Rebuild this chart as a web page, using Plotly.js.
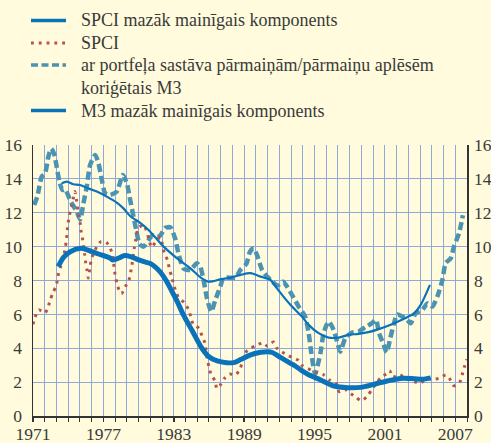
<!DOCTYPE html>
<html><head><meta charset="utf-8">
<script src="https://cdn.plot.ly/plotly-3.0.1.min.js"></script>
<style>html,body{margin:0;padding:0;background:#fffbdc;}</style>
</head><body>
<div id="chart" style="width:491px;height:443px;"></div>
<script>
// ---- data ----
const legendLabels = [
  "SPCI mazāk mainīgais komponents",
  "SPCI",
  "ar portfeļa sastāva pārmaiņām/pārmaiņu aplēsēm",
  "koriģētais M3",
  "M3 mazāk mainīgais komponents"
];
const xTickYears = [1971,1977,1983,1989,1995,2001,2007];

const spciCoreYears = [1973.15,1973.6,1974.17,1975.1,1975.5,1976.03,1976.89,1977.6,1977.8,1978.46,1978.8,1979.31,1979.89,1980.46,1981.0,1981.46,1981.85,1982.35,1982.85,1983.3,1983.8,1984.6,1985.4,1986.0,1986.7,1987.5,1988.1,1988.7,1989.5,1990.4,1991.0,1991.4,1992.1,1993.24,1994.38,1995.52,1996.66,1997.8,1998.93,2000.07,2001.21,2002.35,2003.49,2004.2,2004.9];
const spciCoreVals  = [8.82,9.37,9.7,9.9,9.84,9.7,9.5,9.31,9.21,9.37,9.47,9.41,9.25,9.11,9.0,8.78,8.5,8.0,7.35,6.75,6.0,5.0,4.0,3.5,3.25,3.15,3.15,3.33,3.6,3.76,3.8,3.75,3.46,3.0,2.48,2.13,1.77,1.67,1.69,1.87,2.07,2.22,2.2,2.17,2.25];

const spciYears = [1971.0,1971.17,1971.5,1972.03,1972.27,1972.47,1972.7,1973.0,1973.1,1973.35,1973.63,1973.77,1973.86,1973.92,1974.0,1974.11,1974.28,1974.42,1974.57,1974.7,1974.88,1975.02,1975.09,1975.22,1975.31,1975.4,1975.49,1975.6,1975.71,1975.88,1976.03,1976.5,1976.8,1977.25,1977.56,1977.8,1977.88,1977.96,1978.22,1978.55,1978.88,1979.18,1979.44,1979.62,1979.76,1979.96,1980.45,1980.88,1981.1,1981.48,1981.85,1982.2,1982.47,1982.62,1982.8,1983.0,1983.2,1983.4,1983.9,1984.25,1984.45,1984.65,1985.15,1985.4,1985.65,1985.85,1986.0,1986.17,1986.5,1986.68,1986.95,1987.3,1987.75,1988.3,1988.68,1989.1,1989.55,1990.0,1990.6,1990.97,1991.3,1991.5,1991.8,1992.2,1992.8,1993.6,1994.0,1994.7,1995.3,1995.8,1996.3,1996.9,1997.1,1997.6,1998.1,1998.5,1999.0,1999.5,1999.9,2000.3,2000.7,2001.1,2001.4,2001.7,2002.2,2002.8,2003.5,2004.0,2004.5,2005.0,2005.6,2006.2,2006.5,2006.9,2007.4,2007.6,2007.8,2008.0];
const spciVals  = [5.41,5.83,6.26,6.08,6.4,6.85,7.28,7.72,8.19,8.8,9.5,10.0,10.47,10.94,11.42,11.87,12.36,12.8,13.25,12.8,11.87,11.4,10.94,10.47,10.0,9.55,9.06,8.62,8.15,8.9,9.37,10.08,10.3,10.26,9.94,9.5,9.0,8.52,7.64,7.22,7.64,8.03,8.94,9.88,10.4,11.08,11.28,10.45,9.96,10.3,10.55,9.6,9.2,8.72,8.27,7.75,7.3,7.0,6.69,6.3,5.87,5.43,5.17,4.74,4.32,3.37,2.91,2.46,2.09,1.62,1.81,2.2,2.48,2.43,2.84,3.74,4.0,4.15,4.33,4.13,4.29,4.37,4.0,3.8,3.55,3.3,2.95,2.72,2.52,2.42,2.12,1.87,1.44,1.57,1.32,1.12,0.89,1.18,1.57,1.97,2.3,2.48,2.68,2.29,2.46,2.2,2.03,1.92,2.2,2.16,2.22,2.42,2.22,1.78,2.03,2.46,2.95,3.35];

const m3AdjYears = [1971.1,1971.37,1971.74,1972.03,1972.31,1972.55,1972.79,1973.02,1973.25,1973.5,1973.73,1974.22,1974.73,1975.02,1975.3,1975.58,1975.87,1976.3,1976.58,1976.87,1977.15,1977.58,1978.14,1978.66,1979.0,1979.23,1979.51,1979.8,1980.08,1980.42,1980.85,1981.2,1981.6,1981.9,1982.27,1982.7,1983.13,1983.4,1983.84,1984.4,1984.97,1985.26,1985.54,1985.83,1986.2,1986.54,1986.97,1987.2,1987.54,1988.25,1988.68,1989.2,1989.5,1989.81,1990.1,1990.53,1990.95,1991.4,1991.85,1992.32,1993.08,1993.65,1994.2,1994.5,1994.73,1995.05,1995.5,1995.78,1996.2,1996.63,1997.0,1997.2,1997.63,1998.2,1998.76,1999.33,1999.9,2000.24,2000.5,2000.9,2001.15,2001.46,2001.75,2002.05,2002.48,2002.9,2003.19,2003.62,2004.19,2004.62,2005.04,2005.47,2005.9,2006.18,2006.61,2006.89,2007.32,2007.65];
const m3AdjVals  = [12.46,12.95,14.13,14.33,15.31,15.78,15.5,14.72,13.84,13.35,13.39,12.66,12.07,11.6,12.56,13.54,14.82,15.41,14.92,13.94,13.15,13.05,13.25,14.23,13.74,12.95,11.97,10.98,10.16,10.0,10.4,10.65,10.55,10.7,11.1,11.15,10.45,9.6,8.7,8.62,9.02,8.82,8.03,6.95,6.16,6.85,7.64,8.1,8.17,8.17,8.62,9.0,9.7,9.9,9.5,8.62,8.23,7.94,7.7,7.93,7.15,6.46,5.87,4.9,3.7,2.5,3.7,4.9,5.58,5.09,4.2,3.8,4.6,4.93,4.99,5.24,5.48,5.68,4.9,4.2,3.75,4.6,5.4,6.0,5.87,5.67,5.47,6.06,6.26,6.65,6.46,7.05,8.03,9.02,9.31,10.0,10.79,11.85];

const m3CoreYears = [1973.45,1973.88,1974.44,1975.01,1975.72,1976.44,1977.29,1978.14,1978.71,1979.28,1980.14,1980.85,1981.42,1982.14,1983.28,1984.42,1985.27,1985.98,1986.98,1987.84,1988.69,1989.54,1990.4,1991.25,1991.68,1992.23,1993.08,1993.93,1994.5,1995.35,1996.2,1997.06,1997.9,1998.76,1999.6,2000.47,2001.6,2002.45,2002.9,2003.48,2004.05,2004.47,2004.84];
const m3CoreVals  = [13.74,13.84,13.68,13.64,13.44,13.25,12.95,12.6,12.26,11.81,11.4,10.98,10.55,10.0,9.31,8.72,8.19,7.93,8.07,8.17,8.33,8.43,8.23,8.03,7.64,7.15,6.46,5.87,5.38,4.89,4.63,4.63,4.79,4.85,4.95,5.13,5.42,5.68,5.83,6.06,6.56,7.15,7.74];

// ---- styles ----
const BG = '#fffbdc', GRID = '#8ea8dc', AX = '#333333', TXT = '#3a3a3a';
const C_THICK = '#0a72b8', C_DOT = '#b5524c', C_DASH = '#4a93b3', C_THIN = '#0a72b8';
const FONT = 'Liberation Serif';
const DOT_DASH = '2.8px,5px';

const traces = [
  {x: m3AdjYears, y: m3AdjVals, mode:'lines', line:{color:C_DASH, width:4.5, dash:'8px,4px', shape:'spline', smoothing:0.6}, showlegend:false, hoverinfo:'skip'},
  {x: m3CoreYears, y: m3CoreVals, mode:'lines', yaxis:'y2', line:{color:C_THIN, width:2.2, shape:'spline', smoothing:0.8}, showlegend:false, hoverinfo:'skip'},
  {x: spciYears, y: spciVals, mode:'lines', line:{color:C_DOT, width:3, dash:DOT_DASH, shape:'spline', smoothing:0.6}, showlegend:false, hoverinfo:'skip'},
  {x: spciCoreYears, y: spciCoreVals, mode:'lines', line:{color:C_THICK, width:5, shape:'spline', smoothing:0.8}, showlegend:false, hoverinfo:'skip'}
];

// legend (manual, paper coords relative to plot area: left 33, top 145, width 434, height 271)
const PL = 33, PT = 145, PW = 434, PH = 271;
const px2x = p => (p - PL) / PW;
const py2y = p => (PT + PH - p) / PH;
const rowY = [20.5, 43, 65, 87.5, 110.5];
const sampleStyles = [
  {color:C_THICK, width:3.5},
  {color:C_DOT, width:3, dash:DOT_DASH},
  {color:C_DASH, width:3.5, dash:'7px,3.5px'},
  null,
  {color:C_THIN, width:3.5}
];
const shapes = [];
const annotations = [];
legendLabels.forEach((lab, i) => {
  if (sampleStyles[i]) {
    shapes.push({type:'line', xref:'paper', yref:'paper', x0:px2x(31), x1:px2x(66), y0:py2y(rowY[i]), y1:py2y(rowY[i]), line:sampleStyles[i]});
  }
  annotations.push({xref:'paper', yref:'paper', x:px2x(79), y:py2y(rowY[i]), xanchor:'left', yanchor:'middle', showarrow:false, text:lab, font:{family:FONT, size:18, color:TXT}});
});

const axisFont = {family:FONT, size:17.5, color:TXT};
const layout = {
  width:491, height:443,
  margin:{l:PL, r:491-PL-PW, t:PT, b:443-PT-PH, pad:0},
  paper_bgcolor:BG, plot_bgcolor:BG,
  showlegend:false,
  xaxis:{range:[1971,2008], tickmode:'array', tickvals:xTickYears, ticktext:xTickYears.map(String),
    showgrid:true, gridcolor:GRID, gridwidth:1, zeroline:false,
    showline:true, linecolor:AX, linewidth:1.5, ticks:'outside', ticklen:4, tickwidth:1.5, tickcolor:AX,
    ticklabelstandoff:-3,
    minor:{tick0:1971, dtick:1, showgrid:true, gridcolor:GRID, gridwidth:1, ticks:'outside', ticklen:4, tickwidth:1, tickcolor:AX},
    tickfont:axisFont, fixedrange:true},
  yaxis:{range:[0,16], dtick:2, tick0:0, showgrid:true, gridcolor:GRID, gridwidth:1, zeroline:false,
    showline:true, linecolor:AX, linewidth:1.5, ticks:'', ticklabelstandoff:6, tickfont:axisFont, fixedrange:true},
  yaxis2:{range:[0,16], dtick:2, tick0:0, overlaying:'y', side:'right', showgrid:false, zeroline:false,
    showline:true, linecolor:AX, linewidth:1.5, ticks:'', ticklabelstandoff:2, tickfont:axisFont, fixedrange:true},
  shapes, annotations
};
Plotly.newPlot('chart', traces, layout, {displayModeBar:false, staticPlot:true});
</script>
</body></html>
